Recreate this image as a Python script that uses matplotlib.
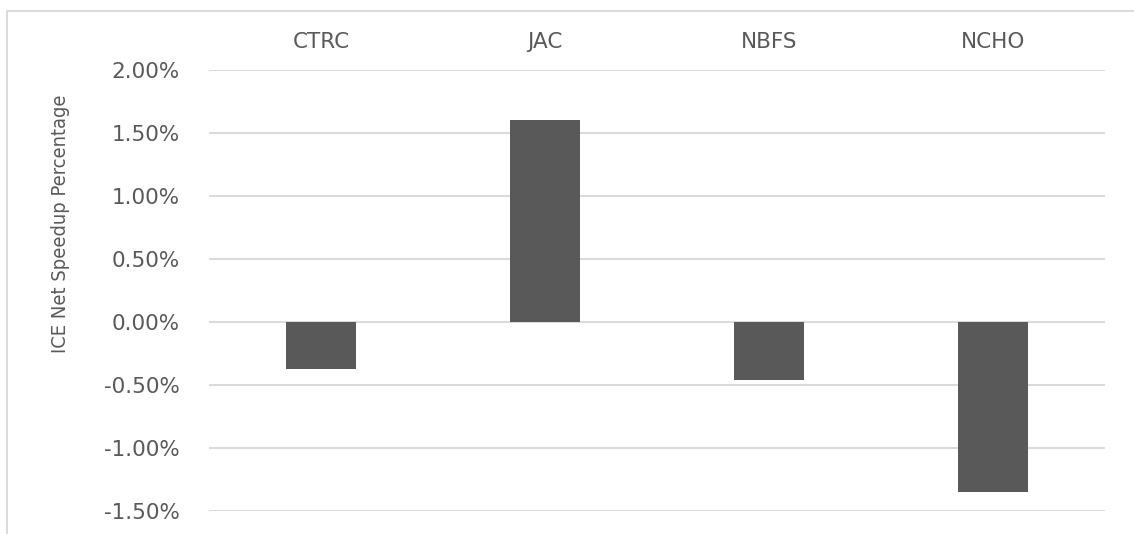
import matplotlib
matplotlib.use("Agg")
import matplotlib.pyplot as plt
from matplotlib.lines import Line2D
from matplotlib.ticker import FuncFormatter

# datos
benchmarks = ["CTRC", "JAC", "NBFS", "NCHO"]
speedup_pct = [-0.38, 1.60, -0.46, -1.35]
y_ticks = [-1.5, -1.0, -0.5, 0.0, 0.5, 1.0, 1.5, 2.0]

texto = "#595959"
rejilla = "#D9D9D9"
barra = "#595959"

fig = plt.figure(figsize=(11.34, 5.34), dpi=100, facecolor="white")
ax = fig.add_axes([0.1843, 0.0440, 0.7904, 0.8255])

x = range(len(benchmarks))
ax.bar(x, speedup_pct, width=0.3125, color=barra, zorder=3)

ax.set_xlim(-0.5, len(benchmarks) - 0.5)
ax.set_ylim(-1.5, 2.0)
ax.set_yticks(y_ticks)
ax.yaxis.set_major_formatter(FuncFormatter(lambda v, p: f"{v:.2f}%"))
ax.yaxis.grid(True, color=rejilla, linewidth=1.4)
ax.set_axisbelow(True)

# etiquetas de categoria arriba
ax.set_xticks(list(x))
ax.set_xticklabels(benchmarks)
ax.tick_params(axis="x", bottom=False, labelbottom=False, top=True, labeltop=True,
               length=0, pad=12.6, labelsize=15.5, labelcolor=texto)
ax.tick_params(axis="y", length=0, pad=21, labelsize=15.5, labelcolor=texto)
for lab in ax.get_xticklabels() + ax.get_yticklabels():
    lab.set_family("DejaVu Sans")

for s in ax.spines.values():
    s.set_visible(False)

# titulo del eje y, version condensada
fig.text(61 / 1134, 1 - 224 / 534, "ICE Net Speedup Percentage", rotation=90,
         ha="center", va="center", color=texto, fontsize=14.4,
         family="DejaVu Sans", fontstretch="condensed")

# marco del grafico
fig.add_artist(Line2D([7.3 / 1134, 7.3 / 1134], [0, 1 - 11 / 534],
                      transform=fig.transFigure, color=rejilla, linewidth=1.3))
fig.add_artist(Line2D([7.3 / 1134, 1], [1 - 11 / 534, 1 - 11 / 534],
                      transform=fig.transFigure, color=rejilla, linewidth=1.3))

fig.savefig("out.png", dpi=100, facecolor="white")
